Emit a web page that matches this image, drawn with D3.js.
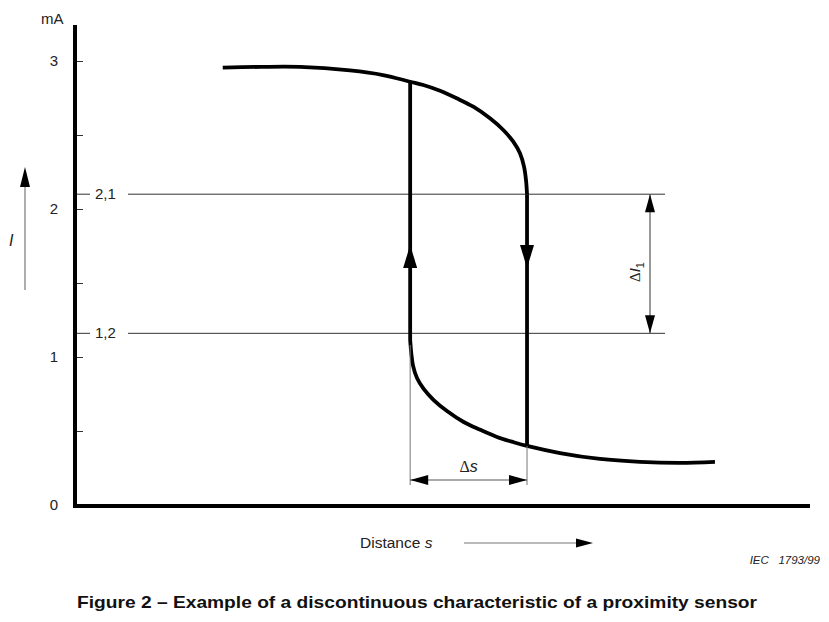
<!DOCTYPE html>
<html><head><meta charset="utf-8">
<script src="https://cdn.jsdelivr.net/npm/d3@7"></script>
<style>body{margin:0;background:#fff}svg{display:block}text{font-family:"Liberation Sans",Arial,sans-serif}</style>
</head><body>
<script>
// ---- data ----
const yTicks = [0, 0.5, 1, 1.5, 2, 2.5, 3];
const yTickLabels = [0, 1, 2, 3];
const levels = [{v: 2.1, label: "2,1"}, {v: 1.16, label: "1,2"}];
const upperX = [2.01, 2.52, 3.06, 3.74, 4.19, 4.56, 4.739, 4.966, 5.193, 5.419, 5.646, 5.827, 5.963, 6.054, 6.109, 6.136, 6.15];
const upperY = [2.955, 2.96, 2.96, 2.936, 2.905, 2.86, 2.838, 2.799, 2.748, 2.691, 2.613, 2.534, 2.455, 2.376, 2.286, 2.196, 2.10];
const lowerX = [4.56, 4.575, 4.599, 4.653, 4.744, 4.880, 5.061, 5.288, 5.514, 5.741, 5.969, 6.15, 6.599, 7.143, 7.687, 8.231, 8.707];
const lowerY = [1.115, 1.027, 0.942, 0.858, 0.784, 0.709, 0.635, 0.561, 0.508, 0.460, 0.424, 0.399, 0.351, 0.311, 0.291, 0.284, 0.291];
const switchOn = 4.56, switchOff = 6.15;

const W = 829, H = 622;
const svg = d3.select("body").append("svg").attr("width", W).attr("height", H);
const x = d3.scaleLinear().domain([0, 10]).range([75, 810]);
const y = d3.scaleLinear().domain([0, 3]).range([505, 61]);

function tri(cx, cy, dir, len, w) {
  let p;
  if (dir === 'up') p = [[cx, cy], [cx - w/2, cy + len], [cx + w/2, cy + len]];
  else if (dir === 'down') p = [[cx, cy], [cx - w/2, cy - len], [cx + w/2, cy - len]];
  else if (dir === 'left') p = [[cx, cy], [cx + len, cy - w/2], [cx + len, cy + w/2]];
  else p = [[cx, cy], [cx - len, cy - w/2], [cx - len, cy + w/2]];
  svg.append("path").attr("d", "M" + p.join("L") + "Z").attr("fill", "#000");
}

// level lines
levels.forEach(l => {
  const yy = y(l.v);
  svg.append("line").attr("x1", x(0)).attr("x2", x(0) + 15).attr("y1", yy).attr("y2", yy)
    .attr("stroke", "#333").attr("stroke-width", 1);
  svg.append("line").attr("x1", x(0) + 53).attr("x2", 665).attr("y1", yy).attr("y2", yy)
    .attr("stroke", "#333").attr("stroke-width", 1);
  svg.append("text").attr("x", x(0) + 20).attr("y", yy + 5).attr("font-size", 15).attr("fill", "#222").text(l.label);
});

// y ticks
const ya = svg.append("g").attr("transform", `translate(${x(0)},0)`)
  .call(d3.axisRight(y).tickValues(yTicks).tickSize(8).tickFormat(""));
ya.select(".domain").remove();
ya.selectAll("line").attr("stroke", "#333");
const yl = svg.append("g").attr("transform", `translate(${x(0) - 14},0)`)
  .call(d3.axisLeft(y).tickValues(yTickLabels).tickSize(0).tickFormat(d3.format("d")));
yl.select(".domain").remove();
yl.selectAll("text").attr("font-size", 15).attr("fill", "#222").attr("font-family", "Liberation Sans, Arial");

// axes
svg.append("line").attr("x1", x(0)).attr("x2", x(0)).attr("y1", 25).attr("y2", 508)
  .attr("stroke", "#000").attr("stroke-width", 4);
svg.append("line").attr("x1", x(0) - 2).attr("x2", x(10)).attr("y1", 506).attr("y2", 506)
  .attr("stroke", "#000").attr("stroke-width", 4);
svg.append("text").attr("x", 41).attr("y", 24).attr("font-size", 15).attr("fill", "#222").text("mA");

// curves
const line = d3.line().x(d => x(d[0])).y(d => y(d[1])).curve(d3.curveCatmullRom.alpha(0.5));
svg.append("path").attr("d", line(upperX.map((v, i) => [v, upperY[i]])))
  .attr("fill", "none").attr("stroke", "#000").attr("stroke-width", 3.8);
svg.append("path").attr("d", line(lowerX.map((v, i) => [v, lowerY[i]])))
  .attr("fill", "none").attr("stroke", "#000").attr("stroke-width", 3.8);

// switching verticals
const upVal = upperY[upperX.indexOf(switchOn)];
const loVal = lowerY[lowerX.indexOf(switchOff)];
svg.append("line").attr("x1", x(switchOn)).attr("x2", x(switchOn)).attr("y1", y(lowerY[0])).attr("y2", y(upVal))
  .attr("stroke", "#000").attr("stroke-width", 3.8);
svg.append("line").attr("x1", x(switchOff)).attr("x2", x(switchOff)).attr("y1", y(upperY[upperY.length - 1])).attr("y2", y(loVal))
  .attr("stroke", "#000").attr("stroke-width", 3.8);
tri(x(switchOn), 245, 'up', 23, 14);
tri(x(switchOff), 268, 'down', 23, 14);

// delta s
const dsY = 480;
svg.append("line").attr("x1", x(switchOn)).attr("x2", x(switchOn)).attr("y1", y(lowerY[0]) + 5).attr("y2", dsY + 5)
  .attr("stroke", "#777").attr("stroke-width", 1);
svg.append("line").attr("x1", x(switchOff)).attr("x2", x(switchOff)).attr("y1", y(loVal)).attr("y2", dsY + 5)
  .attr("stroke", "#777").attr("stroke-width", 1);
svg.append("line").attr("x1", x(switchOn)).attr("x2", x(switchOff)).attr("y1", dsY).attr("y2", dsY)
  .attr("stroke", "#555").attr("stroke-width", 1.2);
tri(x(switchOn), dsY, 'left', 18, 10);
tri(x(switchOff), dsY, 'right', 18, 10);
const dsT = svg.append("text").attr("x", (x(switchOn) + x(switchOff)) / 2).attr("y", 472)
  .attr("text-anchor", "middle").attr("font-size", 16).attr("fill", "#222");
dsT.append("tspan").attr("font-family", "Liberation Serif, serif").text("Δ");
dsT.append("tspan").attr("font-style", "italic").text("s");

// delta I1
const diX = 650;
svg.append("line").attr("x1", diX).attr("x2", diX).attr("y1", y(levels[0].v)).attr("y2", y(levels[1].v))
  .attr("stroke", "#555").attr("stroke-width", 1.2);
tri(diX, y(levels[0].v), 'up', 18, 10);
tri(diX, y(levels[1].v), 'down', 18, 10);
const diT = svg.append("text").attr("transform", `translate(640,272) rotate(-90)`)
  .attr("text-anchor", "middle").attr("font-size", 15).attr("fill", "#222");
diT.append("tspan").attr("font-family", "Liberation Serif, serif").text("Δ");
diT.append("tspan").attr("font-style", "italic").text("I");
diT.append("tspan").attr("font-size", 11).attr("dy", 4).text("1");

// I axis label
svg.append("text").attr("x", 9).attr("y", 246).attr("font-size", 16).attr("font-style", "italic").attr("fill", "#222").text("I");
svg.append("line").attr("x1", 25).attr("x2", 25).attr("y1", 290).attr("y2", 185).attr("stroke", "#777").attr("stroke-width", 1.2);
tri(25, 167, 'up', 20, 10);

// distance label
const dT = svg.append("text").attr("x", 360).attr("y", 548).attr("font-size", 15.5).attr("fill", "#222");
dT.append("tspan").text("Distance ");
dT.append("tspan").attr("font-style", "italic").text("s");
svg.append("line").attr("x1", 464).attr("x2", 578).attr("y1", 543).attr("y2", 543).attr("stroke", "#777").attr("stroke-width", 1.2);
tri(593, 543, 'right', 17, 9);

svg.append("text").attr("x", 820).attr("y", 564).attr("text-anchor", "end").attr("font-size", 11.5)
  .attr("font-style", "italic").attr("fill", "#222").attr("xml:space", "preserve").text("IEC   1793/99");

svg.append("text").attr("x", 77).attr("y", 608).attr("font-size", 17)
  .attr("font-weight", "bold").attr("fill", "#111")
  .attr("textLength", 680).attr("lengthAdjust", "spacingAndGlyphs")
  .text("Figure 2 – Example of a discontinuous characteristic of a proximity sensor");
</script>
</body></html>
